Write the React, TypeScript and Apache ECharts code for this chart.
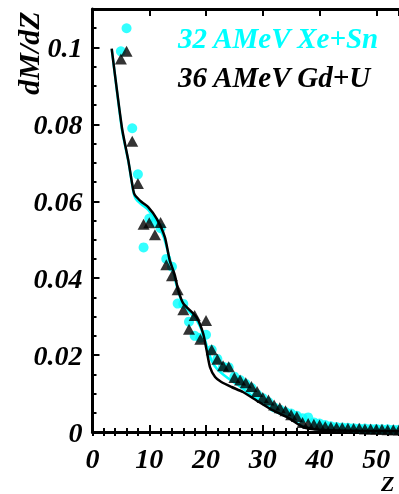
import React, { useEffect, useRef } from "react";
import * as echarts from "echarts";

// Xe+Sn 32 AMeV (cyan circles)
const xeZ = [5, 6, 7, 8, 9, 10, 11, 12, 13, 14, 15, 16, 17, 18, 19, 20, 21, 22, 23, 24, 25, 26, 27, 28, 29, 30, 31, 32, 33, 34, 35, 36, 37, 38, 39, 40, 41, 42, 43, 44, 45, 46, 47, 48, 49, 50, 51, 52, 53, 54];
const xeVal = [0.099, 0.105, 0.079, 0.067, 0.048, 0.0555, 0.0545, 0.053, 0.045, 0.043, 0.0334, 0.0333, 0.0287, 0.025, 0.0245, 0.0253, 0.0214, 0.019, 0.017, 0.0168, 0.0144, 0.0135, 0.0125, 0.0115, 0.0098, 0.0088, 0.0078, 0.0064, 0.0058, 0.0052, 0.0048, 0.0042, 0.0036, 0.0038, 0.0025, 0.0022, 0.0018, 0.0015, 0.0013, 0.0012, 0.0011, 0.001, 0.0009, 0.0009, 0.0008, 0.0008, 0.0007, 0.0007, 0.0006, 0.0006];

// Gd+U 36 AMeV (black triangles)
const gdZ = [5, 6, 7, 8, 9, 10, 11, 12, 13, 14, 15, 16, 17, 18, 19, 20, 21, 22, 23, 24, 25, 26, 27, 28, 29, 30, 31, 32, 33, 34, 35, 36, 37, 38, 39, 40, 41, 42, 43, 44, 45, 46, 47, 48, 49, 50, 51, 52, 53, 54];
const gdVal = [0.097, 0.099, 0.0756, 0.0646, 0.054, 0.0544, 0.0513, 0.0545, 0.0435, 0.0406, 0.037, 0.0318, 0.0267, 0.0303, 0.0241, 0.029, 0.0214, 0.0189, 0.0172, 0.017, 0.0142, 0.0135, 0.0128, 0.0118, 0.0105, 0.009, 0.0083, 0.007, 0.0063, 0.0055, 0.0045, 0.004, 0.0025, 0.0022, 0.002, 0.0018, 0.0014, 0.0013, 0.0012, 0.0011, 0.001, 0.0009, 0.001, 0.0008, 0.0008, 0.0007, 0.0007, 0.0006, 0.0006, 0.0005];

// model curves
const blackLineZ = [3.38, 5.2, 6.3, 7.18, 7.48, 8.66, 9.82, 11.3, 12.75, 13.6, 14.5, 15.1, 16.0, 18.3, 19.5, 20.1, 20.7, 21.6, 22.7, 24.5, 26.5, 28.9, 31.8, 34.7, 37.1, 40, 47, 54];
const blackLineVal = [0.0997, 0.079, 0.0707, 0.0629, 0.0616, 0.0598, 0.0585, 0.0555, 0.0507, 0.0447, 0.0408, 0.0369, 0.0334, 0.0299, 0.0256, 0.0213, 0.0169, 0.0143, 0.013, 0.0117, 0.0104, 0.0082, 0.0056, 0.0035, 0.0013, 0.0006, 0.0003, 0.0002];
const cyanLineZ = [3.4, 5.2, 6.3, 7.2, 7.6, 8.6, 9.8, 11.2, 12.6, 13.5, 14.4, 15.1, 16, 17.2, 18.3, 19.5, 20.3, 21.0, 21.9, 23.6, 26.5, 28.9, 31.8, 34.7, 37.1, 40, 47, 54];
const cyanLineVal = [0.0995, 0.0785, 0.0705, 0.0625, 0.0607, 0.0592, 0.0578, 0.0548, 0.0505, 0.0455, 0.0405, 0.0365, 0.0332, 0.031, 0.0292, 0.0255, 0.0215, 0.0185, 0.0165, 0.0143, 0.0113, 0.0085, 0.0058, 0.0037, 0.0015, 0.0007, 0.0003, 0.0002];

const legendXe = "32 AMeV Xe+Sn";
const legendGd = "36 AMeV Gd+U";
const yTitle = "dM/dZ";
const xTitle = "Z";

const CYAN = "#00FFFF";
const FONT = "Liberation Serif";

export default function App() {
  const ref = useRef<HTMLDivElement>(null);
  useEffect(() => {
    if (!ref.current) return;
    const chart = echarts.init(ref.current, undefined, { renderer: "svg" });
    const labelStyle = {
      fontFamily: FONT,
      fontStyle: "italic" as const,
      fontWeight: "bold" as const,
      fontSize: 28,
      color: "#000",
    };
    const xBase = { type: "value" as const, min: 0, max: 54, splitLine: { show: false } };
    const yBase = { type: "value" as const, min: 0, max: 0.11, splitLine: { show: false } };
    const line = { show: true, onZero: false, lineStyle: { color: "#000", width: 3 } };
    chart.setOption({
      animation: false,
      grid: { left: 92.5, right: 0, top: 9, bottom: 62, containLabel: false },
      xAxis: [
        {
          ...xBase,
          position: "bottom",
          interval: 10,
          axisLine: line,
          axisTick: { inside: true, length: 7, lineStyle: { width: 2, color: "#000" } },
          axisLabel: {
            ...labelStyle,
            margin: 12,
            showMaxLabel: false,
            formatter: (v: number) => (Math.abs(v % 10) < 1e-6 ? String(v) : ""),
          },
        },
        {
          ...xBase,
          position: "bottom",
          interval: 2,
          axisLine: { show: false },
          axisTick: { inside: true, length: 4, lineStyle: { width: 2, color: "#000" } },
          axisLabel: { show: false },
        },
        {
          ...xBase,
          position: "top",
          interval: 10,
          axisLine: line,
          axisTick: { inside: true, length: 7, lineStyle: { width: 2, color: "#000" } },
          axisLabel: { show: false },
        },
        {
          ...xBase,
          position: "top",
          interval: 2,
          axisLine: { show: false },
          axisTick: { inside: true, length: 4, lineStyle: { width: 2, color: "#000" } },
          axisLabel: { show: false },
        },
      ],
      yAxis: [
        {
          ...yBase,
          position: "left",
          interval: 0.02,
          axisLine: line,
          axisTick: { inside: true, length: 7, lineStyle: { width: 2, color: "#000" } },
          axisLabel: {
            ...labelStyle,
            margin: 10,
            showMaxLabel: false,
            formatter: (v: number) => {
              const k = v / 0.02;
              if (Math.abs(k - Math.round(k)) > 1e-6) return "";
              return String(+v.toFixed(2));
            },
          },
        },
        {
          ...yBase,
          position: "left",
          interval: 0.005,
          axisLine: { show: false },
          axisTick: { inside: true, length: 4, lineStyle: { width: 2, color: "#000" } },
          axisLabel: { show: false },
        },
      ],
      series: [
        {
          type: "scatter",
          xAxisIndex: 0,
          yAxisIndex: 0,
          symbol: "circle",
          symbolSize: 10,
          itemStyle: { color: CYAN },
          data: xeZ.map((z, i) => [z, xeVal[i]]),
          z: 2,
        },
        {
          type: "line",
          xAxisIndex: 0,
          yAxisIndex: 0,
          showSymbol: false,
          smooth: 0.2,
          lineStyle: { color: CYAN, width: 2.5 },
          data: cyanLineZ.map((z, i) => [z, cyanLineVal[i]]),
          z: 3,
        },
        {
          type: "line",
          xAxisIndex: 0,
          yAxisIndex: 0,
          showSymbol: false,
          smooth: 0.2,
          lineStyle: { color: "#000", width: 2.5 },
          data: blackLineZ.map((z, i) => [z, blackLineVal[i]]),
          z: 4,
        },
        {
          type: "scatter",
          xAxisIndex: 0,
          yAxisIndex: 0,
          symbol: "triangle",
          symbolSize: [12, 11],
          itemStyle: { color: "#000" },
          data: gdZ.map((z, i) => [z, gdVal[i]]),
          z: 5,
        },
      ],
      graphic: [
        {
          type: "text",
          x: 178,
          y: 38,
          style: { text: legendXe, fill: CYAN, font: `italic bold 29px "${FONT}"`, textAlign: "left", textVerticalAlign: "middle" },
        },
        {
          type: "text",
          x: 178,
          y: 77,
          style: { text: legendGd, fill: "#000", font: `italic bold 29px "${FONT}"`, textAlign: "left", textVerticalAlign: "middle" },
        },
        {
          type: "text",
          x: 28,
          y: 53,
          rotation: Math.PI / 2,
          style: { text: yTitle, fill: "#000", font: `italic bold 30px "${FONT}"`, textAlign: "center", textVerticalAlign: "middle" },
        },
        {
          type: "text",
          x: 381,
          y: 483,
          style: { text: xTitle, fill: "#000", font: `italic bold 22px "${FONT}"`, textAlign: "left", textVerticalAlign: "middle" },
        },
      ],
    });
    return () => chart.dispose();
  }, []);
  return <div ref={ref} style={{ position: "fixed", left: 0, top: 0, width: 399, height: 494 }} />;
}
